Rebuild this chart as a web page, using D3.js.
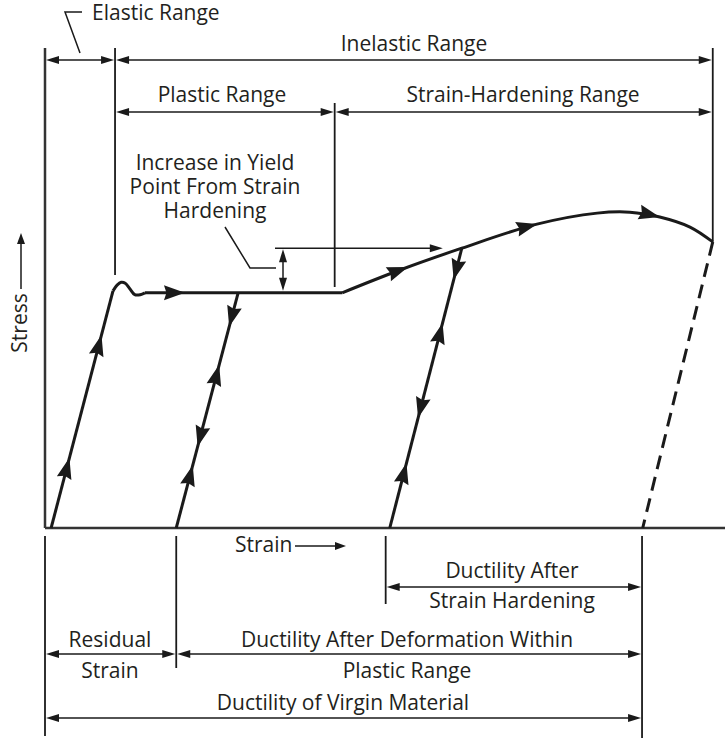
<!DOCTYPE html>
<html>
<head>
<meta charset="utf-8">
<script src="https://cdn.jsdelivr.net/npm/d3@7"></script>
<style>
    body { margin: 0; background: #fff; }
    text { font-family: "Open Sans", sans-serif; font-size: 21px; fill: #231f20; }
</style>
</head>
<body>
<svg id="chart" width="725" height="738"></svg>
<script>
// Curve segments, [strain, stress] in arbitrary units (0-100)
var loading1 = [[0.9, 0], [10.0, 49.4]]
var yieldBump = [[10.0, 49.4], [10.6, 50.6], [11.2, 51.2], [11.8, 51.0], [12.5, 49.8], [13.2, 48.6], [14.0, 48.6], [14.7, 49.0]]
var plateau = [[14.7, 49.0], [43.7, 49.0]]
var hardening = [[43.7, 49.0], [52.2, 53.75], [61.3, 58.3], [72.35, 63.3], [81.2, 65.6], [86.0, 65.8], [90.4, 64.8], [94.85, 62.7], [98.2, 59.6]]
var reload1 = [[19.3, 0], [28.4, 49.0]]
var reload2 = [[50.7, 0], [61.3, 58.3]]
var fracture = [[98.2, 59.6], [87.9, 0]]

// Direction arrows on the curves (tip position, +1 = along path direction)
var flowArrows = [
    { path: "loading1", stress: 14.6, dir: 1 },
    { path: "loading1", stress: 40.2, dir: 1 },
    { path: "plateau", strain: 20.6, dir: 1 },
    { path: "reload1", stress: 41.9, dir: -1 },
    { path: "reload1", stress: 34.0, dir: 1 },
    { path: "reload1", stress: 16.9, dir: -1 },
    { path: "reload1", stress: 13.1, dir: 1 },
    { path: "reload2", stress: 51.7, dir: -1 },
    { path: "reload2", stress: 42.7, dir: 1 },
    { path: "reload2", stress: 22.9, dir: -1 },
    { path: "reload2", stress: 13.5, dir: 1 },
    { path: "hardening", strain: 53.4, dir: 1 },
    { path: "hardening", strain: 72.4, dir: 1 },
    { path: "hardening", strain: 90.4, dir: 1 }
]

// Strain boundaries of the ranges
var elasticLimit = 10.3
var plasticEnd = 42.6
var fracturePoint = 98.2
var residualStrain = 19.3
var hardenedStart = 50.1
var ductileEnd = 87.8
var yieldIncrease = [49.0, 58.3]

var ink = "#1a1a1a"
var svg = d3.select("#chart")

var xScale = d3.scaleLinear().domain([0, 100]).range([45, 725])
var yScale = d3.scaleLinear().domain([0, 100]).range([528, 48])

var line = d3.line().x(d => xScale(d[0])).y(d => yScale(d[1]))
var smooth = d3.line().x(d => xScale(d[0])).y(d => yScale(d[1])).curve(d3.curveCatmullRom)

// arrowhead polygon with tip at (tx, ty) pointing along angle a
function arrowHead (g, tx, ty, a, len, half, notch) {
    var c = Math.cos(a), s = Math.sin(a)
    var pts = [
        [tx, ty],
        [tx - len * c - half * s, ty - len * s + half * c],
        [tx - (len - notch) * c, ty - (len - notch) * s],
        [tx - len * c + half * s, ty - len * s - half * c]
    ]
    g.append("path")
        .attr("d", "M" + pts.map(p => p.join(",")).join("L") + "Z")
        .attr("fill", ink)
}

// axes
svg.append("line").attr("x1", xScale(0)).attr("x2", 725)
    .attr("y1", yScale(0)).attr("y2", yScale(0))
    .attr("stroke", "#333").attr("stroke-width", 2.5)
svg.append("line").attr("x1", xScale(0)).attr("x2", xScale(0))
    .attr("y1", 48).attr("y2", yScale(0))
    .attr("stroke", "#333").attr("stroke-width", 2.5)

// curves
var curves = svg.append("g").attr("fill", "none").attr("stroke", ink).attr("stroke-width", 3)
var paths = {}
paths.loading1 = curves.append("path").attr("d", line(loading1))
curves.append("path").attr("d", smooth(yieldBump))
paths.plateau = curves.append("path").attr("d", line(plateau))
paths.hardening = curves.append("path").attr("d", smooth(hardening))
paths.reload1 = curves.append("path").attr("d", line(reload1))
paths.reload2 = curves.append("path").attr("d", line(reload2))
curves.append("path").attr("d", line(fracture)).attr("stroke-dasharray", "14,8")

var arrowsG = svg.append("g")
flowArrows.forEach(function (a) {
    var node = paths[a.path].node()
    var total = node.getTotalLength()
    var best = 0, bestD = Infinity
    for (var l = 0; l <= total; l += 0.25) {
        var p = node.getPointAtLength(l)
        var d = a.strain !== undefined ? Math.abs(p.x - xScale(a.strain)) : Math.abs(p.y - yScale(a.stress))
        if (d < bestD) { bestD = d; best = l }
    }
    var tip = node.getPointAtLength(best)
    var p0 = node.getPointAtLength(Math.max(0, best - 1))
    var p1 = node.getPointAtLength(Math.min(total, best + 1))
    var ang = Math.atan2(p1.y - p0.y, p1.x - p0.x)
    if (a.dir < 0) ang += Math.PI
    arrowHead(arrowsG, tip.x, tip.y, ang, 21, 7.5, 2.5)
})

// dimension lines
var dims = svg.append("g")
function vline (x, y1, y2) {
    dims.append("line").attr("x1", x).attr("x2", x).attr("y1", y1).attr("y2", y2)
        .attr("stroke", ink).attr("stroke-width", 1.8)
}
function dimLine (x1, x2, y) {
    dims.append("line").attr("x1", x1 + 6).attr("x2", x2 - 6).attr("y1", y).attr("y2", y)
        .attr("stroke", ink).attr("stroke-width", 1.5)
    arrowHead(dims, x1 + 1, y, Math.PI, 13, 4, 0)
    arrowHead(dims, x2 - 1, y, 0, 13, 4, 0)
}

vline(xScale(elasticLimit), 48, 275)
vline(xScale(plasticEnd), 103, 287)
vline(xScale(fracturePoint), 48, yScale(fracture[0][1]))
dimLine(xScale(0), xScale(elasticLimit), 60)
dimLine(xScale(elasticLimit), xScale(fracturePoint), 60)
dimLine(xScale(elasticLimit), xScale(plasticEnd), 112)
dimLine(xScale(plasticEnd), xScale(fracturePoint), 112)

vline(xScale(0), 536, 736)
vline(xScale(residualStrain), 536, 668)
vline(xScale(hardenedStart), 536, 604)
vline(xScale(ductileEnd), 536, 738)
dimLine(xScale(hardenedStart), xScale(ductileEnd), 587)
dimLine(xScale(0), xScale(residualStrain), 654)
dimLine(xScale(residualStrain), xScale(ductileEnd), 654)
dimLine(xScale(0), xScale(ductileEnd), 718)

// yield increase marker
dims.append("line").attr("x1", 275).attr("x2", xScale(58.5) - 8)
    .attr("y1", yScale(yieldIncrease[1])).attr("y2", yScale(yieldIncrease[1]))
    .attr("stroke", ink).attr("stroke-width", 1.5)
arrowHead(dims, xScale(58.5), yScale(yieldIncrease[1]), 0, 13, 4, 0)
dims.append("line").attr("x1", xScale(35)).attr("x2", xScale(35))
    .attr("y1", yScale(yieldIncrease[1]) + 6).attr("y2", yScale(yieldIncrease[0]) - 6)
    .attr("stroke", ink).attr("stroke-width", 1.5)
arrowHead(dims, xScale(35), yScale(yieldIncrease[1]) + 1, -Math.PI / 2, 13, 4, 0)
arrowHead(dims, xScale(35), yScale(yieldIncrease[0]) - 2, Math.PI / 2, 13, 4, 0)

// leaders
dims.append("path").attr("d", "M225,227L250,268L276,268")
    .attr("fill", "none").attr("stroke", ink).attr("stroke-width", 1.5)
dims.append("path").attr("d", "M80,53L65,12L82,12")
    .attr("fill", "none").attr("stroke", ink).attr("stroke-width", 1.5)

// axis titles
svg.append("text").attr("transform", "translate(27,323)rotate(-90)")
    .attr("text-anchor", "middle").text("Stress")
dims.append("line").attr("x1", 21).attr("x2", 21).attr("y1", 289).attr("y2", 242)
    .attr("stroke", ink).attr("stroke-width", 1.5)
arrowHead(dims, 21, 233, -Math.PI / 2, 11, 4, 0)

svg.append("text").attr("x", 235).attr("y", 552).text("Strain")
dims.append("line").attr("x1", 295).attr("x2", 336).attr("y1", 546).attr("y2", 546)
    .attr("stroke", ink).attr("stroke-width", 1.5)
arrowHead(dims, 346, 546, 0, 11, 4, 0)

// labels
var labels = [
    { x: 92, y: 20, t: "Elastic Range", a: "start" },
    { x: 414, y: 51, t: "Inelastic Range" },
    { x: 222, y: 102, t: "Plastic Range" },
    { x: 523, y: 102, t: "Strain-Hardening Range" },
    { x: 215, y: 170, t: "Increase in Yield" },
    { x: 215, y: 194, t: "Point From Strain" },
    { x: 215, y: 218, t: "Hardening" },
    { x: 512, y: 578, t: "Ductility After" },
    { x: 512, y: 608, t: "Strain Hardening" },
    { x: 110, y: 647, t: "Residual" },
    { x: 110, y: 678, t: "Strain" },
    { x: 407, y: 647, t: "Ductility After Deformation Within" },
    { x: 407, y: 678, t: "Plastic Range" },
    { x: 343, y: 710, t: "Ductility of Virgin Material" }
]
svg.selectAll(".lbl").data(labels).enter().append("text")
    .attr("class", "lbl")
    .attr("x", d => d.x).attr("y", d => d.y)
    .attr("text-anchor", d => d.a || "middle")
    .text(d => d.t)
</script>
</body>
</html>
